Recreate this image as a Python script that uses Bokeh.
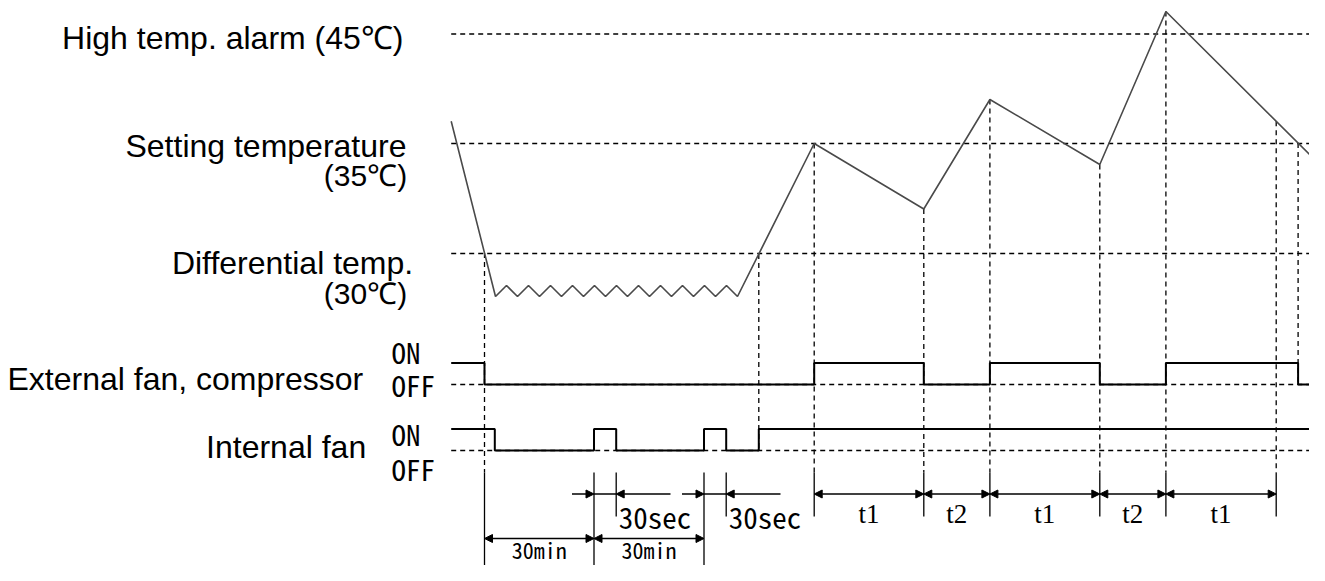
import numpy as np
from bokeh.plotting import figure
from bokeh.models import Range1d, Arrow, NormalHead, ColumnDataSource
from bokeh.core.properties import value
from bokeh.embed import file_html
from bokeh.resources import INLINE

# ---------------- data (diagram units: x = time position, y = vertical position, downward) -------------
# cabinet temperature curve
temp_x = [450.7, 495.0, 506.0, 517.0, 528.0, 539.0, 550.0, 561.0, 572.0, 583.0, 594.0, 605.0,
          616.0, 627.0, 638.0, 649.0, 660.0, 671.0, 682.0, 693.0, 704.0, 715.0, 726.0, 737.0,
          813.7, 923.3, 989.4, 1099.3, 1165.4, 1320.2]
temp_y = [120.7, 296.0, 285.0, 296.0, 285.0, 296.0, 285.0, 296.0, 285.0, 296.0, 285.0, 296.0,
          285.0, 296.0, 285.0, 296.0, 285.0, 296.0, 285.0, 296.0, 285.0, 296.0, 285.0, 296.0,
          143.0, 208.5, 99.0, 164.0, 11.0, 165.0]

# threshold levels
level_names = ["High temp. alarm (45℃)", "Setting temperature", "Differential temp."]
level_units = ["", "(35℃)", "(30℃)"]
level_y = [33.5, 143.0, 253.0]

# external fan / compressor: switching times and states (1 = ON, 0 = OFF)
ext_t = [450.7, 484.0, 813.7, 923.3, 989.4, 1099.3, 1165.4, 1297.6, 1320.0]
ext_s = [1, 0, 1, 0, 1, 0, 1, 0, 0]
# internal fan
int_t = [450.7, 494.3, 593.5, 615.7, 703.5, 725.7, 758.3, 1320.0]
int_s = [1, 0, 1, 0, 1, 0, 1, 1]

# event guide lines
guide_x = [484.0, 758.3, 813.7, 923.3, 989.4, 1099.3, 1165.4, 1275.7, 1297.6]

# timing dimensions
min_bounds = [484.0, 593.5, 703.5]
min_labels = ["30min", "30min"]
sec_start = [593.5, 703.5]
sec_end = [615.7, 725.7]
sec_labels = ["30sec", "30sec"]
t_bounds = [813.7, 923.3, 989.4, 1099.3, 1165.4, 1275.7]
t_labels = ["t1", "t2", "t1", "t2", "t1"]

# ---------------- layout constants ----------------
X0, X1 = 450.7, 1320.0
EXT_ON, EXT_OFF = 362.5, 384.0
INT_ON, INT_OFF = 428.5, 450.0
DIM_TOP = 472.0
ROW_T = 493.5
ROW_MIN = 538.0
EXT_SHORT = 516.0
EXT_LONG = 573.0
guide_bottom = [DIM_TOP, INT_OFF, DIM_TOP, DIM_TOP, DIM_TOP, DIM_TOP, DIM_TOP, DIM_TOP, EXT_OFF]

SANS = value("Liberation Sans")
GOTH = value("Noto Sans Mono CJK JP, Noto Sans CJK JP")
SERIF = value("Liberation Serif")
DASH = "5 4"


def base(b, px, k):
    """compensate the renderer's baseline offset so that the glyph baseline lands on b"""
    return b - k * px


W, H = 1309, 565
p = figure(width=W, height=H, output_backend="svg", toolbar_location=None,
           x_range=Range1d(0, W), y_range=Range1d(H, 0), min_border=0)
p.axis.visible = False
p.grid.visible = False
p.outline_line_color = None
p.background_fill_color = "white"
p.border_fill_color = "white"

# horizontal threshold lines
p.segment(x0=[X0] * 3, x1=[X1] * 3, y0=level_y, y1=level_y,
          line_color="black", line_width=1.3, line_dash=DASH)
# dashed OFF reference lines
p.segment(x0=[X0, X0], x1=[X1, X1], y0=[EXT_OFF, INT_OFF], y1=[EXT_OFF, INT_OFF],
          line_color="black", line_width=1.3, line_dash=DASH)

# vertical guide lines from curve
guide_top = list(np.interp(guide_x, temp_x, temp_y))
p.segment(x0=guide_x, x1=guide_x, y0=guide_top, y1=guide_bottom,
          line_color="black", line_width=1.3, line_dash=DASH)

# temperature curve
p.line(temp_x, temp_y, line_color="#4a4a4a", line_width=1.6)

# signals
ext_y = [EXT_ON if s else EXT_OFF for s in ext_s]
int_y = [INT_ON if s else INT_OFF for s in int_s]
p.step(ext_t, ext_y, mode="after", line_color="black", line_width=2)
p.step(int_t, int_y, mode="after", line_color="black", line_width=2)

# extension lines (solid)
long_x = min_bounds
short_x = sec_end + t_bounds
p.segment(x0=long_x, x1=long_x, y0=[DIM_TOP] * len(long_x), y1=[EXT_LONG] * len(long_x),
          line_color="black", line_width=1.3)
p.segment(x0=short_x, x1=short_x, y0=[DIM_TOP] * len(short_x), y1=[EXT_SHORT] * len(short_x),
          line_color="black", line_width=1.3)


def head():
    return NormalHead(size=8, fill_color="black", line_color="black", line_width=1)


# double-headed dimension arrows
dx0 = t_bounds[:-1] + min_bounds[:-1]
dx1 = t_bounds[1:] + min_bounds[1:]
dy = [ROW_T] * (len(t_bounds) - 1) + [ROW_MIN] * (len(min_bounds) - 1)
dsrc = ColumnDataSource(dict(x0=dx0, x1=dx1, y=dy))
p.add_layout(Arrow(start=head(), end=head(), x_start="x0", x_end="x1", y_start="y", y_end="y",
                   source=dsrc, line_color="black", line_width=1.5))

# 30 sec inward arrows
in_src = ColumnDataSource(dict(
    xs=[a - 22.0 for a in sec_start] + [b + 54.3 for b in sec_end],
    xe=sec_start + sec_end,
    y=[ROW_T] * (2 * len(sec_start))))
p.add_layout(Arrow(end=head(), x_start="xs", x_end="xe", y_start="y", y_end="y",
                   source=in_src, line_color="black", line_width=1.5))
p.segment(x0=sec_start, x1=sec_end, y0=[ROW_T] * 2, y1=[ROW_T] * 2, line_color="black", line_width=1.5)

# ---------------- texts ----------------
p.text(x=[403, 406, 412.7], y=[base(b, 32, 0.4) for b in (50, 158, 275)], text=level_names,
       text_align="right", text_baseline="alphabetic", text_font=SANS,
       text_font_size=value("32px"), text_color="black")
p.text(x=[406.7, 406.7], y=[base(b, 30, 0.4) for b in (187, 305)], text=level_units[1:],
       text_align="right", text_baseline="alphabetic", text_font=SANS,
       text_font_size=value("30px"), text_color="black")
p.text(x=[362.7, 365.7], y=[base(b, 32, 0.4) for b in (391.7, 459)],
       text=["External fan, compressor", "Internal fan"],
       text_align="right", text_baseline="alphabetic", text_font=SANS,
       text_font_size=value("32px"), text_color="black")
p.text(x=[391, 391, 391, 391], y=[base(b, 29, 0.5) for b in (365, 398.3, 446.7, 481.7)],
       text=["ON", "OFF", "ON", "OFF"],
       text_align="left", text_baseline="alphabetic", text_font=GOTH,
       text_font_size=value("29px"), text_color="black")
p.text(x=[e + 2.5 for e in sec_end], y=[base(530, 29, 0.5)] * 2, text=sec_labels, text_align="left",
       text_baseline="alphabetic", text_font=GOTH, text_font_size=value("29px"), text_color="black")
min_mid = [(a + b) / 2 for a, b in zip(min_bounds[:-1], min_bounds[1:])]
p.text(x=min_mid, y=[base(559, 22, 0.5)] * 2, text=min_labels, text_align="center",
       text_baseline="alphabetic", text_font=GOTH, text_font_size=value("22px"), text_color="black")
t_mid = [(a + b) / 2 for a, b in zip(t_bounds[:-1], t_bounds[1:])]
p.text(x=t_mid, y=[base(524, 27, 0.4)] * len(t_mid), text=t_labels, text_align="center",
       text_baseline="alphabetic", text_font=SERIF, text_font_size=value("27px"), text_color="black")

open("out.html", "w").write(file_html(p, INLINE))
